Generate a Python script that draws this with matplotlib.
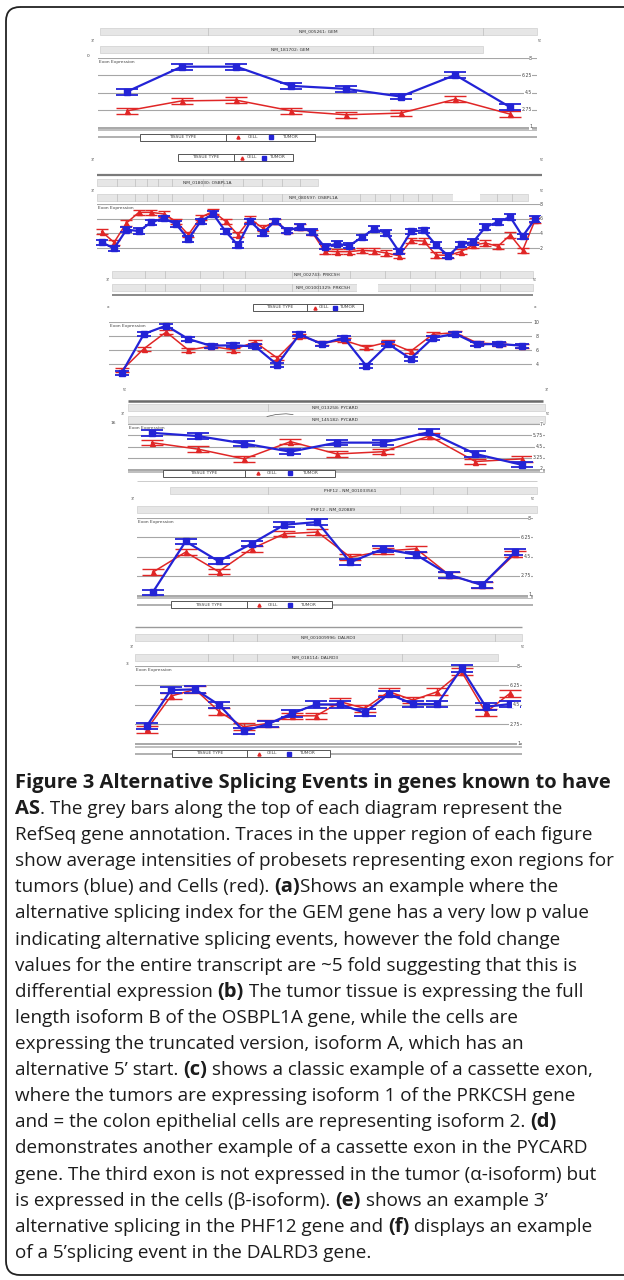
import matplotlib.pyplot as plt
from matplotlib.patches import FancyBboxPatch, Rectangle

W, H = 624, 1280
BLUE = "#2323d6"
RED = "#e02626"
GRID = "#a6a6a6"
BAR = "#e6e6e6"
FONT = ["Open Sans", "DejaVu Sans"]

# exon expression traces, one value per probeset (tumor = blue, cell = red)
gem_tumor = [4.59, 7.12, 7.12, 5.17, 4.87, 4.09, 6.28, 3.02]
gem_cell = [2.64, 3.65, 3.72, 2.64, 2.24, 2.41, 3.82, 2.31]
gem_ticks = [8, 6.25, 4.5, 2.75, 1]

osbpl1a_tumor = [2.77, 1.95, 4.50, 4.32, 5.50, 6.05, 5.27, 3.23, 5.64, 6.64, 4.27, 2.41,
                 5.64, 4.05, 5.64, 4.36, 4.86, 4.18, 2.18, 2.59, 2.32, 3.45, 4.59, 4.05,
                 1.55, 4.27, 4.41, 2.41, 0.95, 2.50, 2.82, 4.86, 5.55, 6.23, 3.59, 5.95]
osbpl1a_cell = [4.23, 2.77, 5.41, 6.86, 6.86, 6.64, 5.64, 3.82, 6.18, 7.00, 5.64, 3.82,
                5.95, 4.73, 5.64, 4.36, 4.86, 4.14, 1.59, 1.50, 1.50, 1.68, 1.59, 1.32,
                0.95, 3.05, 2.95, 1.05, 1.00, 1.50, 2.41, 2.68, 2.23, 3.77, 1.68, 5.77]
osbpl1a_ticks = [8, 6, 4, 2]

prkcsh_tumor = [2.71, 8.29, 9.48, 7.57, 6.62, 6.67, 6.52, 3.90, 8.24, 6.86,
                7.76, 3.76, 6.86, 4.76, 7.71, 8.33, 6.81, 6.86, 6.62]
prkcsh_cell = [3.10, 6.19, 8.57, 6.00, 6.52, 6.05, 7.14, 4.86, 8.05, 7.00,
               7.38, 6.38, 7.14, 5.81, 8.24, 8.48, 7.00, 6.86, 6.62]
prkcsh_ticks = [10, 8, 6, 4]

pycard_tumor = [6.02, 5.66, 4.83, 3.92, 4.93, 4.93, 6.09, 3.67, 2.47]
pycard_cell = [4.93, 4.21, 3.12, 5.04, 3.67, 3.92, 5.66, 2.83, 3.12]
pycard_ticks = [7, 5.75, 4.5, 3.25, 2]

phf12_tumor = [1.24, 5.87, 4.07, 5.66, 7.39, 7.63, 3.98, 5.20, 4.65, 2.83, 1.91, 4.90]
phf12_cell = [3.07, 4.90, 3.13, 5.20, 6.57, 6.72, 4.44, 4.99, 5.20, 2.83, 1.91, 4.74]
phf12_ticks = [8, 6.25, 4.5, 2.75, 1]

dalrd3_tumor = [2.57, 5.83, 5.89, 4.47, 2.12, 2.75, 3.72, 4.53,
                4.53, 3.78, 5.47, 4.56, 4.56, 7.79, 4.32, 4.56]
dalrd3_cell = [2.27, 5.28, 5.89, 3.87, 2.51, 2.81, 3.50, 3.50,
               4.77, 4.17, 5.68, 4.92, 5.68, 7.49, 3.81, 5.53]
dalrd3_ticks = [8, 6.25, 4.5, 2.75, 1]

caption = [
    [("Figure 3 Alternative Splicing Events in genes known to have", True)],
    [("AS", True), (". The grey bars along the top of each diagram represent the", False)],
    [("RefSeq gene annotation. Traces in the upper region of each figure", False)],
    [("show average intensities of probesets representing exon regions for", False)],
    [("tumors (blue) and Cells (red). ", False), ("(a)", True), ("Shows an example where the", False)],
    [("alternative splicing index for the GEM gene has a very low p value", False)],
    [("indicating alternative splicing events, however the fold change", False)],
    [("values for the entire transcript are ~5 fold suggesting that this is", False)],
    [("differential expression ", False), ("(b)", True), (" The tumor tissue is expressing the full", False)],
    [("length isoform B of the OSBPL1A gene, while the cells are", False)],
    [("expressing the truncated version, isoform A, which has an", False)],
    [("alternative 5\u2019 start. ", False), ("(c)", True), (" shows a classic example of a cassette exon,", False)],
    [("where the tumors are expressing isoform 1 of the PRKCSH gene", False)],
    [("and = the colon epithelial cells are representing isoform 2. ", False), ("(d)", True)],
    [("demonstrates another example of a cassette exon in the PYCARD", False)],
    [("gene. The third exon is not expressed in the tumor (\u03b1-isoform) but", False)],
    [("is expressed in the cells (\u03b2-isoform). ", False), ("(e)", True), (" shows an example 3\u2019", False)],
    [("alternative splicing in the PHF12 gene and ", False), ("(f)", True), (" displays an example", False)],
    [("of a 5\u2019splicing event in the DALRD3 gene.", False)],
]

fig = plt.figure(figsize=(W / 100, H / 100), dpi=100)
cv = fig.add_axes([0, 0, 1, 1])
cv.set_xlim(0, W)
cv.set_ylim(H, 0)
cv.axis("off")
renderer = fig.canvas.get_renderer()

cv.add_patch(FancyBboxPatch((6, 7), 640, 1268, boxstyle="round,pad=0,rounding_size=14",
                            fc="none", ec="#222222", lw=1.3))


def tiny(x, y, s, **kw):
    kw.setdefault("fontsize", 3.2)
    kw.setdefault("color", "#444444")
    kw.setdefault("ha", "center")
    kw.setdefault("va", "center")
    cv.text(x, y, s, **kw)


def hline(x0, x1, y, lw=0.8, color=GRID):
    cv.plot([x0, x1], [y, y], color=color, lw=lw, solid_capstyle="butt")


def gene_bar(x0, x1, yc, label, lx, cuts=(), gaps=(), h=7):
    cv.add_patch(Rectangle((x0, yc - h / 2), x1 - x0, h, fc=BAR, ec="#cfcfcf", lw=0.5))
    for c in cuts:
        cv.plot([c, c], [yc - h / 2, yc + h / 2], color="#c4c4c4", lw=0.6)
    for g0, g1 in gaps:
        cv.add_patch(Rectangle((g0, yc - h / 2 - 0.5), g1 - g0, h + 1, fc="white", ec="none"))
    tiny(lx, yc, label, color="#333333")


def tissue_legend(x0, x1, xd, yc, h=7):
    cv.add_patch(Rectangle((x0, yc - h / 2), x1 - x0, h, fc="white", ec="#555555", lw=0.7, zorder=3))
    cv.plot([xd, xd], [yc - h / 2, yc + h / 2], color="#555555", lw=0.7, zorder=4)
    tiny((x0 + xd) / 2, yc, "TISSUE TYPE", zorder=4)
    span = x1 - xd
    cv.plot(xd + 0.14 * span, yc, "^", color=RED, ms=2.2, zorder=4)
    tiny(xd + 0.30 * span, yc, "CELL", zorder=4)
    cv.plot(xd + 0.50 * span, yc, "s", color=BLUE, ms=2.2, zorder=4)
    tiny(xd + 0.72 * span, yc, "TUMOR", zorder=4)


def trace_panel(box, lims, ends, tumor, cell, ticks, err, cap, label_x, bottom=True):
    x0, x1, ytop, ybot = box
    lo, hi = lims
    first, last = ends
    ax = fig.add_axes([x0 / W, 1 - ybot / H, (x1 - x0) / W, (ybot - ytop) / H])
    ax.patch.set_alpha(0)
    n = len(tumor)
    step = (last - first) / (n - 1)
    ax.set_xlim(-(first - x0) / step, (n - 1) + (x1 - last) / step)
    ax.set_ylim(lo, hi)
    ax.axis("off")
    for t in ticks:
        if t == lo:
            continue
        ax.axhline(t, color=GRID, lw=0.8, zorder=1)
    idx = list(range(n))
    ax.errorbar(idx, cell, yerr=err, color=RED, lw=1.1, marker="^", ms=3.6,
                capsize=cap, capthick=1.0, elinewidth=1.0, zorder=3, clip_on=False)
    ax.errorbar(idx, tumor, yerr=err, color=BLUE, lw=1.6, marker="s", ms=4.2,
                capsize=cap, capthick=1.3, elinewidth=1.3, zorder=4, clip_on=False)
    fx = (label_x - x0) / (x1 - x0)
    for t in ticks:
        lab = f"{t:g}"
        ax.text(fx, t, lab, transform=ax.get_yaxis_transform(), fontsize=3.3, color="#444444",
                ha="right", va="center", clip_on=False, zorder=5,
                bbox=dict(fc="white", ec="none", pad=0.3))
    tiny(x0 + 1, ytop + 3.5, "Exon Expression", ha="left")
    if bottom:
        hline(x0, x1, ybot + 0.5, lw=1.2, color="#9a9a9a")
        hline(x0, x1, ybot + 3, lw=1.2, color="#b4b4b4")


# (a) GEM
gene_bar(100, 537, 31.5, "NM_005261: GEM", 318, cuts=(208, 373, 483))
tiny(93, 41, "3'")
tiny(540, 41, "5'")
gene_bar(100, 483, 49.5, "NM_181702: GEM", 290, cuts=(208, 373))
tiny(88, 56, "0")
trace_panel((98, 537, 58, 127), (1, 8), (127, 510), gem_tumor, gem_cell, gem_ticks,
            0.3, 8, 532)
hline(98, 537, 137, lw=1.4, color="#b0b0b0")
tissue_legend(140, 315, 226, 137)
tissue_legend(178, 293, 234, 157.5)
tiny(93, 160, "3'")
tiny(542, 160, "5'")

# (b) OSBPL1A
hline(97, 542, 175, lw=1.6, color="#7a7a7a")
gene_bar(97, 318, 182, "NM_018030: OSBPL1A", 207,
         cuts=(117, 135, 147, 158, 172, 203, 223, 243, 262, 282, 300))
tiny(93, 191, "3'")
tiny(542, 191, "5'")
gene_bar(97, 528, 197, "NM_080597: OSBPL1A", 313,
         cuts=(117, 135, 147, 158, 172, 203, 223, 243, 262, 282, 300, 360, 375, 390,
               403, 418, 432, 497, 512), gaps=((453, 480),))
trace_panel((97, 540, 204, 262.7), (0, 8), (101.7, 535), osbpl1a_tumor, osbpl1a_cell,
            osbpl1a_ticks, 0.35, 4, 543, bottom=False)

# (c) PRKCSH
gene_bar(112, 533, 274, "NM_002743: PRKCSH", 317,
         cuts=(145, 165, 200, 223, 245, 292, 318, 350, 385, 410, 435, 460, 480, 500))
tiny(108, 280, "3'")
tiny(535, 280, "5'")
gene_bar(112, 533, 287.5, "NM_001001329: PRKCSH", 323,
         cuts=(145, 165, 200, 223, 245, 292, 318, 410, 435, 460, 480, 500), gaps=((357, 378),))
hline(112, 533, 294.5, lw=1.4, color="#8a8a8a")
tissue_legend(253, 363, 307, 307.5)
tiny(108, 307, "x")
tiny(535, 307, "x")
trace_panel((109, 532, 322, 378), (2, 10), (121.7, 521.7), prkcsh_tumor, prkcsh_cell,
            prkcsh_ticks, 0.3, 5, 539, bottom=False)
tiny(125, 390, "5'")
tiny(547, 390, "3'")

# (d) PYCARD
hline(128, 543, 401, lw=1.8, color="#6a6a6a")
gene_bar(128, 545, 407.5, "NM_013258: PYCARD", 335, cuts=(268,))
tiny(123, 414, "3'")
tiny(548, 414, "5'")
cv.plot([267, 276, 286, 293], [416.5, 414.5, 413.8, 414.6], color="#555555", lw=0.5)
gene_bar(128, 545, 419, "NM_145182: PYCARD", 335)
tiny(113, 423, "16")
trace_panel((128, 545, 424, 469), (2, 7), (151.7, 521.7), pycard_tumor, pycard_cell,
            pycard_ticks, 0.3, 8, 543)
tissue_legend(163, 335, 245, 473)

# (e) PHF12
hline(137, 537, 480.5, lw=0.6, color="#c4c4c4")
gene_bar(170, 537, 490, "PHF12 - NM_001033561", 350, cuts=(268, 400, 433, 467))
tiny(133, 499, "3'")
tiny(533, 499, "5'")
gene_bar(137, 537, 509.5, "PHF12 - NM_020889", 333, cuts=(268, 400, 433, 467))
trace_panel((137, 533, 518, 595), (1, 8), (152.7, 515), phf12_tumor, phf12_cell,
            phf12_ticks, 0.25, 8, 531)
hline(137, 533, 604.5, lw=1.4, color="#b0b0b0")
tissue_legend(171, 332, 247, 604.5)

# (f) DALRD3
hline(135, 522, 627, lw=1.0, color="#9a9a9a")
gene_bar(135, 522, 637.5, "NM_001009996: DALRD3", 328, cuts=(208, 233, 257, 402, 495))
tiny(132, 647, "3'")
tiny(523, 647, "5'")
gene_bar(135, 498, 657, "NM_018114: DALRD3", 315, cuts=(208, 233, 257, 402))
tiny(127, 664, "3")
trace_panel((135, 522, 666, 743.5), (1, 8), (146.7, 510), dalrd3_tumor, dalrd3_cell,
            dalrd3_ticks, 0.3, 8, 520)
hline(135, 522, 753.5, lw=1.4, color="#b0b0b0")
tissue_legend(172, 330, 247, 753.5)

# caption, drawn segment by segment so bold runs can sit inside a line
CAP_X = 15
CAP_Y0 = 788
CAP_DY = 26.1


def advance(s, size, weight):
    probe = cv.text(0, 0, s + ".", fontsize=size, fontweight=weight, family=FONT)
    dot = cv.text(0, 0, ".", fontsize=size, fontweight=weight, family=FONT)
    w = probe.get_window_extent(renderer).width - dot.get_window_extent(renderer).width
    probe.remove()
    dot.remove()
    return w


body_size = 10 * 598 / advance(caption[3][0][0], 10, "normal")
bold_size = 10 * 597 / advance(caption[0][0][0], 10, "bold")

for i, parts in enumerate(caption):
    x = CAP_X
    y = CAP_Y0 + i * CAP_DY
    for s, bold in parts:
        weight = "bold" if bold else "normal"
        size = bold_size if bold else body_size
        cv.text(x, y, s, fontsize=size, fontweight=weight, family=FONT,
                color="#1c1c1c", ha="left", va="baseline")
        x += advance(s, size, weight)

fig.savefig("out.png", dpi=100)
